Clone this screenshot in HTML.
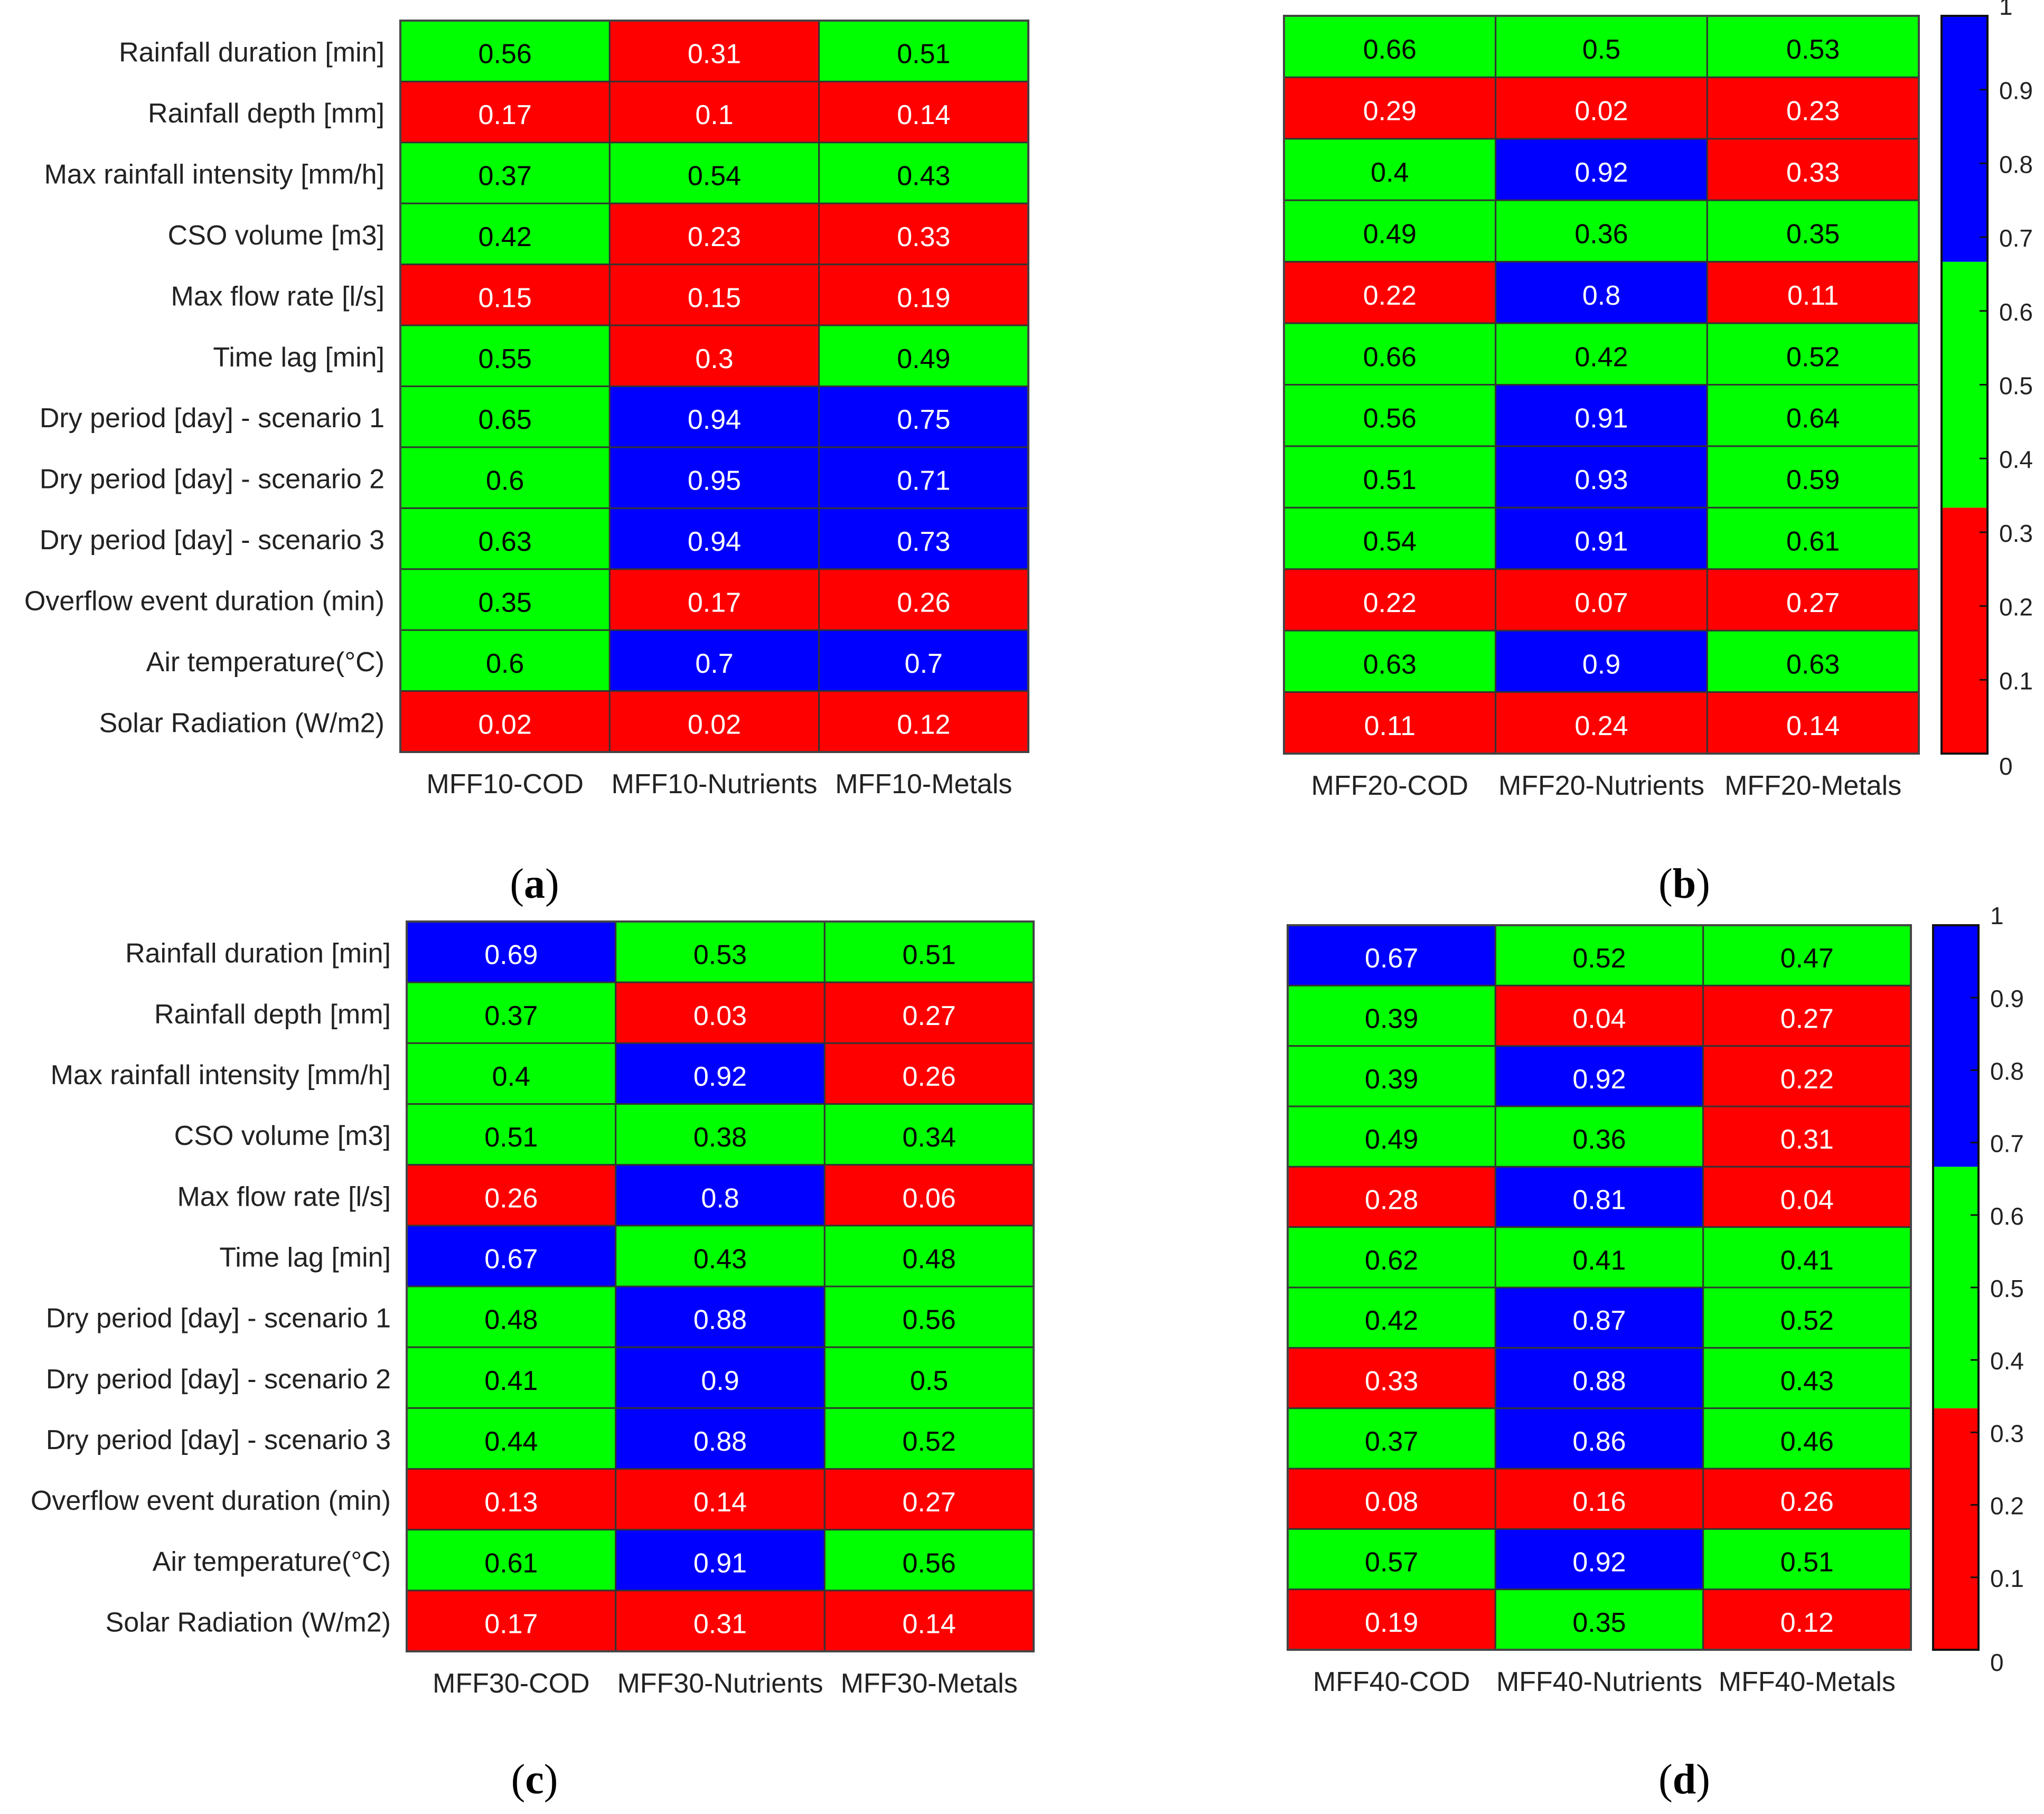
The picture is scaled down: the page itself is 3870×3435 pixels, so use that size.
<!DOCTYPE html>
<html><head><meta charset="utf-8">
<style>
html,body{margin:0;padding:0;background:#fff;}
svg{display:block;}
text{font-family:"Liberation Sans",Arial,sans-serif;}
</style></head>
<body>
<svg id="fig" width="3870" height="3435" viewBox="0 0 3870 3435" xmlns="http://www.w3.org/2000/svg"></svg>
<script>
const rowLabels = ["Rainfall duration [min]","Rainfall depth [mm]","Max rainfall intensity [mm/h]","CSO volume [m3]","Max flow rate [l/s]","Time lag [min]","Dry period [day] - scenario 1","Dry period [day] - scenario 2","Dry period [day] - scenario 3","Overflow event duration (min)","Air temperature(°C)","Solar Radiation (W/m2)"];
const colsA = ["MFF10-COD","MFF10-Nutrients","MFF10-Metals"];
const colsB = ["MFF20-COD","MFF20-Nutrients","MFF20-Metals"];
const colsC = ["MFF30-COD","MFF30-Nutrients","MFF30-Metals"];
const colsD = ["MFF40-COD","MFF40-Nutrients","MFF40-Metals"];
const valsA = [[0.56,0.31,0.51],[0.17,0.1,0.14],[0.37,0.54,0.43],[0.42,0.23,0.33],[0.15,0.15,0.19],[0.55,0.3,0.49],[0.65,0.94,0.75],[0.6,0.95,0.71],[0.63,0.94,0.73],[0.35,0.17,0.26],[0.6,0.7,0.7],[0.02,0.02,0.12]];
const valsB = [[0.66,0.5,0.53],[0.29,0.02,0.23],[0.4,0.92,0.33],[0.49,0.36,0.35],[0.22,0.8,0.11],[0.66,0.42,0.52],[0.56,0.91,0.64],[0.51,0.93,0.59],[0.54,0.91,0.61],[0.22,0.07,0.27],[0.63,0.9,0.63],[0.11,0.24,0.14]];
const valsC = [[0.69,0.53,0.51],[0.37,0.03,0.27],[0.4,0.92,0.26],[0.51,0.38,0.34],[0.26,0.8,0.06],[0.67,0.43,0.48],[0.48,0.88,0.56],[0.41,0.9,0.5],[0.44,0.88,0.52],[0.13,0.14,0.27],[0.61,0.91,0.56],[0.17,0.31,0.14]];
const valsD = [[0.67,0.52,0.47],[0.39,0.04,0.27],[0.39,0.92,0.22],[0.49,0.36,0.31],[0.28,0.81,0.04],[0.62,0.41,0.41],[0.42,0.87,0.52],[0.33,0.88,0.43],[0.37,0.86,0.46],[0.08,0.16,0.26],[0.57,0.92,0.51],[0.19,0.35,0.12]];
const cbTicks = [0,0.1,0.2,0.3,0.4,0.5,0.6,0.7,0.8,0.9,1];
const panelLetters = ["(a)","(b)","(c)","(d)"];

const NS="http://www.w3.org/2000/svg";
const svg=document.getElementById('fig');
function mk(tag,attrs,parent){const e=document.createElementNS(NS,tag);for(const k in attrs)e.setAttribute(k,attrs[k]);(parent||svg).appendChild(e);return e;}
function colorOf(v){return v>2/3?"#0000ff":(v>1/3?"#00ff00":"#ff0000");}
function textColorOf(v){return (v>1/3&&v<=2/3)?"#000":"#fff";}

function heatmap(px,name,x0,y0,x1,y1,vals,cols,showRows){
  const g=mk('g',{});
  
  
  const nR=vals.length,nC=cols.length;
  const xs=c=>x0+(x1-x0)*c/nC, ys=r=>y0+(y1-y0)*r/nR;
  for(let r=0;r<nR;r++){
    for(let c=0;c<nC;c++){
      const v=vals[r][c];
      const rc=mk('rect',{x:xs(c),y:ys(r),width:xs(c+1)-xs(c),height:ys(r+1)-ys(r),fill:colorOf(v),stroke:"#333",'stroke-width':3},g);
      
      
      const t=mk('text',{x:(xs(c)+xs(c+1))/2,y:(ys(r)+ys(r+1))/2+23,'text-anchor':'middle','font-size':52,fill:textColorOf(v)},g);
      t.textContent=String(v);
      
      
    }
    if(showRows){
      const lt=mk('text',{x:x0-30,y:(ys(r)+ys(r+1))/2+20,'text-anchor':'end','font-size':52,fill:"#222"},g);
      lt.textContent=rowLabels[r];
      
      
    }
  }
  mk('rect',{x:x0,y:y0,width:x1-x0,height:y1-y0,fill:"none",stroke:"#444",'stroke-width':4},g);
  for(let c=0;c<nC;c++){
    const ct=mk('text',{x:(xs(c)+xs(c+1))/2,y:y1+78,'text-anchor':'middle','font-size':52,fill:"#222"},g);
    ct.textContent=cols[c];
    
    
  }
}
function colorbar(name,x0,y0,x1,y1){
  const g=mk('g',{});
  
  
  const yv=v=>y1-(y1-y0)*v;
  const bands=[[0,1/3],[1/3,2/3],[2/3,1]];
  bands.forEach(b=>{mk('rect',{x:x0,y:yv(b[1]),width:x1-x0,height:yv(b[0])-yv(b[1]),fill:colorOf((b[0]+b[1])/2)},g);});
  mk('rect',{x:x0,y:y0,width:x1-x0,height:y1-y0,fill:"none",stroke:"#111",'stroke-width':4},g);
  cbTicks.forEach(v=>{
    mk('line',{x1:x1-15,x2:x1,y1:yv(v),y2:yv(v),stroke:"#111",'stroke-width':3},g);
    const t=mk('text',{x:x1+22,y:yv(v)+(v===1?-2:(v===0?40:18)),'font-size':46,fill:"#222"},g);
    t.textContent=String(v);
    
    
  });
}
heatmap('a','heatmap-a',758,39,1947,1424,valsA,colsA,true);
heatmap('b','heatmap-b',2431,30,3633,1427,valsB,colsB,false);
heatmap('c','heatmap-c',770,1745,1957,3127,valsC,colsC,true);
heatmap('d','heatmap-d',2438,1752,3618,3124,valsD,colsD,false);
colorbar('colorbar-b',3676,30,3763,1427);
colorbar('colorbar-d',3660,1752,3746,3124);
const lp=[[1012,1700],[3189,1700],[1012,3396],[3189,3396]];
panelLetters.forEach((s,i)=>{
  const t=mk('text',{x:lp[i][0],y:lp[i][1],'text-anchor':'middle','font-size':80,fill:"#000",style:'font-family:"Liberation Serif",serif'});
  t.innerHTML='(<tspan font-weight="bold">'+s[1]+'</tspan>)';
  
  
});
</script>
</body></html>
